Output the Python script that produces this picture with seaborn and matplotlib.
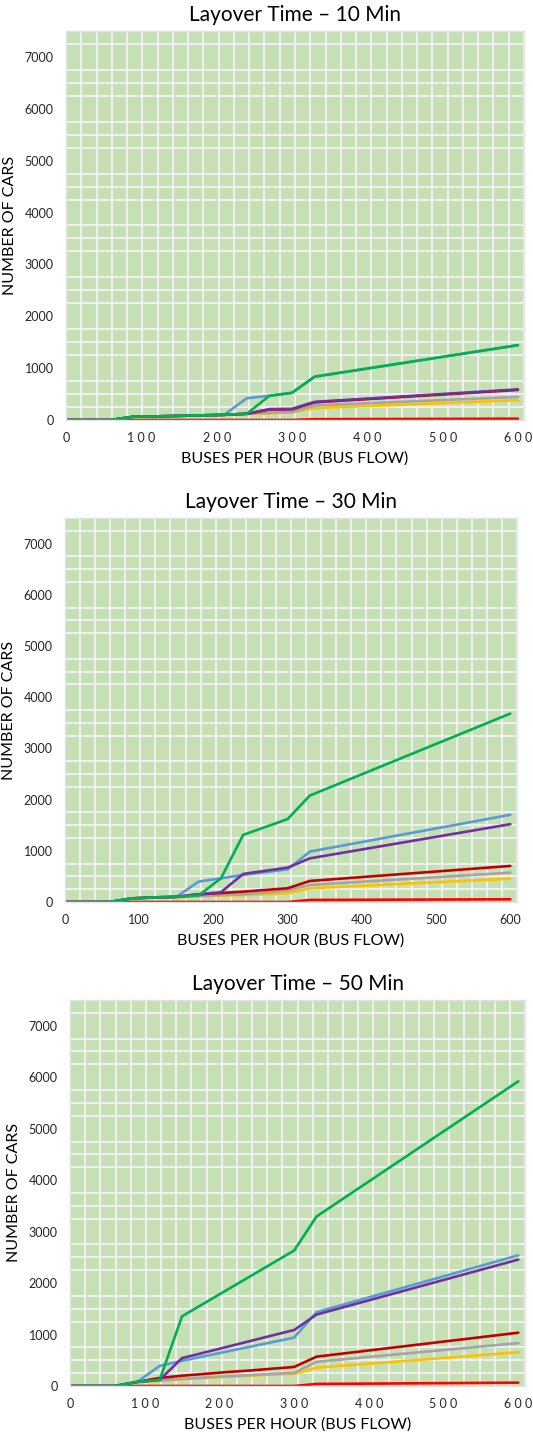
import numpy as np
import matplotlib
matplotlib.use('Agg')

import matplotlib.pyplot as plt
import seaborn as sns
import pandas as pd

# Bus flow (buses per hour) where each series is sampled
bus_flow = [0, 30, 60, 90, 120, 150, 180, 210, 240, 270, 300, 330, 600]

series_names = ["S1", "S2", "S3", "S4", "S5", "S6", "S7"]
series_colors = ["#FF0000", "#FFC000", "#A5A5A5", "#C00000", "#5B9BD5", "#7030A0", "#00B050"]

# Layover time 10 min
lay10_red = [0, 0, 0, 0, 0, 0, 0, 0, 0, 0, 0, 15, 25]
lay10_yellow = [0, 0, 0, 60, 65, 75, 85, 95, 115, 130, 145, 230, 383]
lay10_gray = [0, 0, 0, 65, 70, 80, 90, 100, 120, 140, 155, 280, 445]
lay10_darkred = [0, 0, 0, 65, 70, 80, 90, 100, 120, 200, 205, 340, 580]
lay10_blue = [0, 0, 0, 65, 70, 80, 90, 100, 420, 466, 524, 835, 1443]
lay10_purple = [0, 0, 0, 65, 70, 80, 90, 100, 120, 210, 215, 350, 590]
lay10_green = [0, 0, 0, 65, 70, 80, 90, 100, 120, 466, 524, 835, 1443]

# Layover time 30 min
lay30_red = [0, 0, 0, 0, 0, 0, 0, 0, 0, 0, 0, 40, 53]
lay30_yellow = [0, 0, 0, 65, 85, 95, 110, 125, 135, 150, 170, 268, 456]
lay30_gray = [0, 0, 0, 70, 90, 100, 120, 135, 150, 185, 222, 333, 573]
lay30_darkred = [0, 0, 0, 70, 90, 100, 150, 175, 202, 235, 268, 411, 704]
lay30_blue = [0, 0, 0, 70, 90, 100, 398, 463, 528, 583, 638, 985, 1703]
lay30_purple = [0, 0, 0, 70, 90, 100, 150, 189, 548, 610, 672, 853, 1520]
lay30_green = [0, 0, 0, 70, 90, 100, 130, 460, 1310, 1465, 1620, 2080, 3680]

# Layover time 50 min
lay50_red = [0, 0, 0, 0, 0, 0, 0, 0, 0, 0, 0, 40, 65]
lay50_yellow = [0, 0, 0, 70, 100, 130, 155, 180, 200, 220, 236, 357, 655]
lay50_gray = [0, 0, 0, 75, 110, 140, 165, 190, 210, 235, 255, 470, 834]
lay50_darkred = [0, 0, 0, 80, 156, 200, 235, 270, 300, 335, 370, 570, 1035]
lay50_blue = [0, 0, 0, 80, 390, 490, 580, 670, 760, 850, 941, 1435, 2540]
lay50_purple = [0, 0, 0, 80, 120, 542, 651, 760, 870, 980, 1088, 1388, 2456]
lay50_green = [0, 0, 0, 80, 120, 1355, 1610, 1866, 2121, 2377, 2632, 3294, 5920]

panels = [
    ("Layover Time \u2013 10 Min",
     [lay10_red, lay10_yellow, lay10_gray, lay10_darkred, lay10_blue, lay10_purple, lay10_green], True),
    ("Layover Time \u2013 30 Min",
     [lay30_red, lay30_yellow, lay30_gray, lay30_darkred, lay30_blue, lay30_purple, lay30_green], False),
    ("Layover Time \u2013 50 Min",
     [lay50_red, lay50_yellow, lay50_gray, lay50_darkred, lay50_blue, lay50_purple, lay50_green], True),
]

x_ticks = [0, 100, 200, 300, 400, 500, 600]
y_ticks = [0, 1000, 2000, 3000, 4000, 5000, 6000, 7000]

sns.set_theme(style="white")
plt.rcParams['font.family'] = ['Lato', 'DejaVu Sans']

W, H = 533, 1437
fig = plt.figure(figsize=(W / 100, H / 100), dpi=100)

# axes boxes in pixels: left, right, top, bottom
boxes = [(66, 524, 31, 420), (65, 517, 518, 902), (70, 525, 1000, 1386)]
xmaxes = [608, 609, 609]

for (title, values, spaced), (l, r, t, b), xmax in zip(panels, boxes, xmaxes):
    ax = fig.add_axes([l / W, 1 - b / H, (r - l) / W, (b - t) / H])

    df = pd.DataFrame({
        "bus_flow": np.tile(bus_flow, len(series_names)),
        "cars": np.concatenate(values),
        "series": np.repeat(series_names, len(bus_flow)),
    })
    sns.lineplot(data=df, x="bus_flow", y="cars", hue="series", hue_order=series_names,
                 palette=series_colors, linewidth=1.9, legend=False, ax=ax)

    ax.set_facecolor("#C5E0B4")
    ax.set_xlim(0, xmax)
    ax.set_ylim(0, 7500)

    # gridlines
    ax.set_xticks(np.linspace(0, xmax, 31), minor=True)
    ax.set_yticks(np.arange(0, 7501, 250), minor=True)
    ax.grid(which="minor", color="#F0F0F0", linewidth=1.4)
    ax.grid(which="major", visible=False)
    ax.set_axisbelow(True)

    ax.set_xticks(x_ticks)
    if spaced:
        ax.set_xticklabels([" ".join(str(v)) for v in x_ticks])
    else:
        ax.set_xticklabels([str(v) for v in x_ticks])
    ax.set_yticks(y_ticks)
    ax.set_yticklabels([str(v) for v in y_ticks])
    ax.tick_params(which="both", length=0, labelsize=9, labelcolor="#262626")
    ax.tick_params(axis="x", pad=9)
    ax.tick_params(axis="y", pad=9)

    for s in ax.spines.values():
        s.set_color("#E3E3E3")
        s.set_linewidth(1.0)

    ax.set_title(title, fontsize=15, pad=7, color="black")
    ax.set_xlabel("BUSES PER HOUR (BUS FLOW)", fontsize=11.5, color="black", labelpad=5)
    ax.set_ylabel("NUMBER OF CARS", fontsize=11.5, color="black", labelpad=5)

fig.savefig("out.png", dpi=100)
